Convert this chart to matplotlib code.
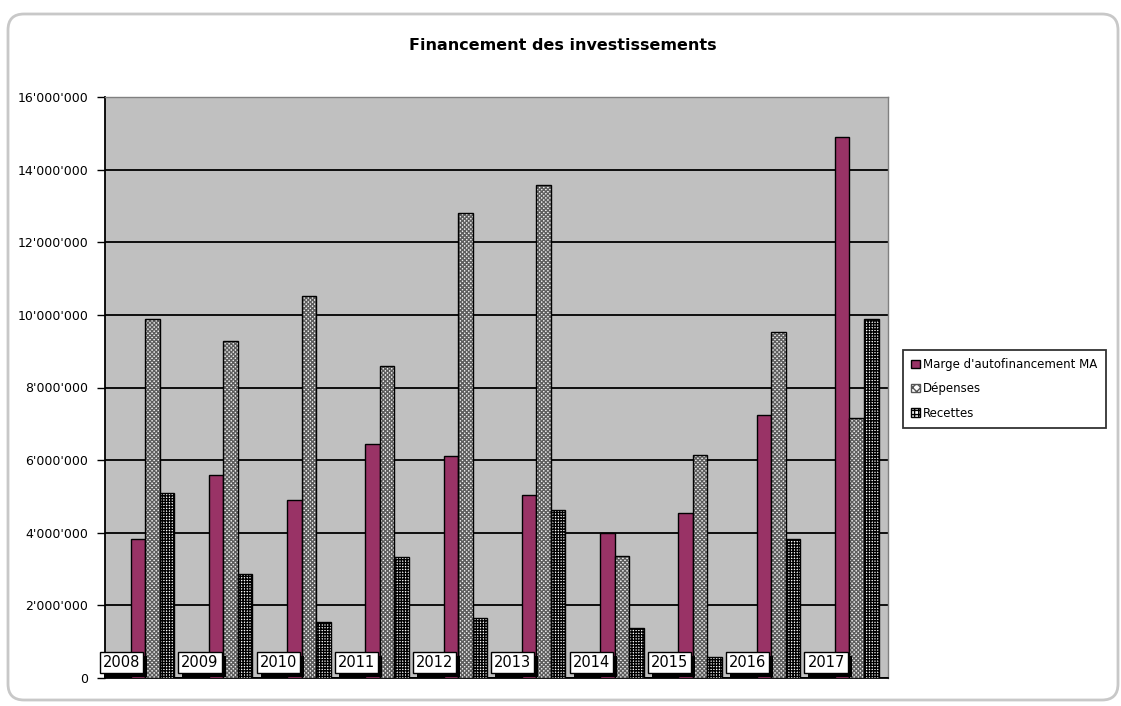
import matplotlib
matplotlib.use("Agg")
import matplotlib.pyplot as plt
import numpy as np
from matplotlib.ticker import FuncFormatter, MultipleLocator
from matplotlib.patches import FancyBboxPatch, Rectangle, Patch
import matplotlib.transforms as mtransforms

years = ["2008", "2009", "2010", "2011", "2012", "2013", "2014", "2015", "2016", "2017"]
marge = [3.83e6, 5.59e6, 4.90e6, 6.45e6, 6.10e6, 5.04e6, 3.99e6, 4.54e6, 7.25e6, 14.91e6]
depenses = [9.89e6, 9.29e6, 10.52e6, 8.60e6, 12.80e6, 13.58e6, 3.36e6, 6.14e6, 9.52e6, 7.16e6]
recettes = [5.10e6, 2.86e6, 1.54e6, 3.34e6, 1.65e6, 4.63e6, 1.37e6, 0.59e6, 3.82e6, 9.89e6]
series_names = ["Marge d'autofinancement MA", "Dépenses", "Recettes"]

W, H = 1121, 706
fig = plt.figure(figsize=(W / 100, H / 100), dpi=100)
fig.patch.set_facecolor("white")
plt.rcParams['hatch.linewidth'] = 1.0

border = FancyBboxPatch((8, 6), 1110, 686, boxstyle="round,pad=0,rounding_size=16",
                        transform=mtransforms.IdentityTransform(),
                        fc="none", ec="#c8c8c8", lw=2)
fig.add_artist(border)

ax = fig.add_axes([105 / W, 1 - 678 / H, (888 - 105) / W, (678 - 97) / H])
ax.set_facecolor("#c0c0c0")

x = np.arange(len(years))
bw = 0.186

ax.bar(x - bw, marge, bw, color="#993366", edgecolor="black", linewidth=1, zorder=3)
ax.bar(x, depenses, bw, color="#f0f0f0", edgecolor="#5e5e5e", hatch="x" * 8, linewidth=0, zorder=3)
ax.bar(x, depenses, bw, fill=False, edgecolor="black", linewidth=1, zorder=3.1)
ax.bar(x + bw, recettes, bw, color="white", edgecolor="black", hatch="+" * 6, linewidth=0, zorder=3)
ax.bar(x + bw, recettes, bw, fill=False, edgecolor="black", linewidth=1, zorder=3.1)

ax.set_xlim(-0.605, 9.40)
ax.set_ylim(0, 16e6)
ax.yaxis.set_major_locator(MultipleLocator(2e6))
ax.yaxis.set_major_formatter(FuncFormatter(lambda v, p: f"{int(round(v)):,}".replace(",", "'")))
ax.grid(axis="y", color="black", linewidth=1.3, zorder=1)
ax.set_axisbelow(True)
ax.set_xticks([])
ax.tick_params(axis="y", direction="out", length=6, width=1, labelsize=9, pad=6, colors="black")
for s in ["top", "right"]:
    ax.spines[s].set_color("#808080")
    ax.spines[s].set_linewidth(1)
for s in ["left", "bottom"]:
    ax.spines[s].set_color("black")
    ax.spines[s].set_linewidth(1.3)

trans = mtransforms.blended_transform_factory(ax.transData, ax.transAxes)
labels = []
for k, yr in enumerate(years):
    t = ax.text(k - 0.63, 0.014, yr, transform=trans, ha="left", va="bottom",
                fontsize=10.5, color="black", zorder=6, clip_on=False,
                bbox=dict(boxstyle="square,pad=0.2", fc="white", ec="black", lw=1))
    labels.append(t)

fig.text(563 / W, 1 - 45 / H, "Financement des investissements", ha="center", va="center",
         fontsize=11.5, fontweight="bold", color="black")

handles = [
    Patch(facecolor="#993366", edgecolor="black"),
    Patch(facecolor="white", edgecolor="#555555", hatch="xxxx"),
    Patch(facecolor="white", edgecolor="black", hatch="++++"),
]
leg = fig.legend(handles, series_names, loc="upper left",
                 bbox_to_anchor=(903 / W, 1 - 350 / H), fontsize=8.5,
                 frameon=True, fancybox=False, edgecolor="black",
                 handlelength=0.7, handleheight=0.7, handletextpad=0.3,
                 labelspacing=0.95, borderpad=0.7, borderaxespad=0)
leg.get_frame().set_linewidth(1.3)

fig.canvas.draw()
for t in labels:
    bb = t.get_bbox_patch().get_window_extent()
    r = Rectangle((bb.x0 + 4, bb.y0 - 4), bb.width, bb.height,
                  transform=mtransforms.IdentityTransform(),
                  fc="black", ec="black", lw=0, zorder=5, clip_on=False)
    ax.add_artist(r)

fig.savefig("out.png", dpi=100, facecolor="white")
